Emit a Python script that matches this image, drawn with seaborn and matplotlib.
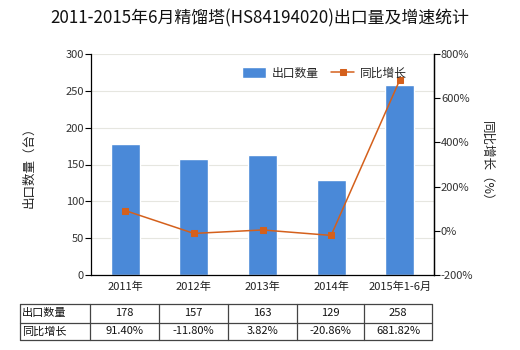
import numpy as np
import pandas as pd
import matplotlib
matplotlib.use("Agg")
import matplotlib.pyplot as plt
import seaborn as sns

sns.set_theme(style="white")
plt.rcParams['font.family'] = ['Noto Sans CJK SC', 'DejaVu Sans']
plt.rcParams['axes.unicode_minus'] = False

categories = ["2011年", "2012年", "2013年", "2014年", "2015年1-6月"]
export_qty = [178, 157, 163, 129, 258]
growth_pct = [91.40, -11.80, 3.82, -20.86, 681.82]
qty_labels = ["178", "157", "163", "129", "258"]
growth_labels = ["91.40%", "-11.80%", "3.82%", "-20.86%", "681.82%"]
left_ticks = [0, 50, 100, 150, 200, 250, 300]
right_ticks = [-200, 0, 200, 400, 600, 800]

bar_color = "#4a89d8"
line_color = "#d4601c"

W, H = 520, 350
fig = plt.figure(figsize=(W / 100, H / 100), dpi=100)
ax = fig.add_axes([91 / W, 1 - 275 / H, (434 - 91) / W, (275 - 54) / H])

df = pd.DataFrame({"cat": categories, "qty": export_qty, "growth": growth_pct})
sns.barplot(data=df, x="cat", y="qty", color=bar_color, width=0.42,
            saturation=1, ax=ax, label="出口数量", zorder=2)
if ax.get_legend() is not None:
    ax.get_legend().remove()
ax.set_xlim(-0.5, len(categories) - 0.5)
ax.set_ylim(0, 300)
ax.set_yticks(left_ticks)
ax.set_yticklabels([str(t) for t in left_ticks], fontsize=8, color="#333333")
ax.yaxis.grid(True, color="#e6e6e0", linewidth=0.8, zorder=0)
ax.set_axisbelow(True)
ax.set_xlabel("")
ax.set_xticks(range(len(categories)))
ax.set_xticklabels(categories, fontsize=8, color="#222222")
ax.tick_params(axis="x", length=0, pad=5)
ax.tick_params(axis="y", length=4, width=0.8, color="black", pad=1, direction="out", left=True)
ax.set_ylabel("出口数量（台）", fontsize=9, color="#222222", labelpad=22)
ax.spines["top"].set_visible(False)
for s in ["left", "bottom", "right"]:
    ax.spines[s].set_color("black")
    ax.spines[s].set_linewidth(0.9)

ax2 = ax.twinx()
x_pos = np.arange(len(categories))
sns.lineplot(x=x_pos, y=growth_pct, ax=ax2, color=line_color, marker="s",
             markersize=4, markeredgecolor=line_color, linewidth=1.1,
             label="同比增长", legend=False, zorder=3)
ax2.set_ylim(-200, 800)
ax2.set_yticks(right_ticks)
ax2.set_yticklabels([f"{t}%" for t in right_ticks], fontsize=8, color="#333333")
ax2.tick_params(axis="y", length=4, width=0.8, color="black", pad=1, direction="out", right=True)
ax2.set_ylabel("同比增长（%）", fontsize=9, color="#222222", rotation=-90, labelpad=14)
ax2.spines["top"].set_visible(False)
ax2.spines["right"].set_color("black")
ax2.spines["right"].set_linewidth(0.9)
ax2.spines["left"].set_visible(False)
ax2.spines["bottom"].set_visible(False)

h1, l1 = ax.get_legend_handles_labels()
h2, l2 = ax2.get_legend_handles_labels()
ax2.legend(h1 + h2, l1 + l2, loc="upper right", bbox_to_anchor=(0.936, 0.964),
           borderaxespad=0, ncol=2, frameon=False, fontsize=8.5,
           handlelength=2.0, handleheight=1.0,
           columnspacing=1.0, handletextpad=0.5)

fig.text(0.5, 1 - 18 / H, "2011-2015年6月精馏塔(HS84194020)出口量及增速统计",
         ha="center", va="center", fontsize=12.2, color="#111111")

# data table under the chart
col_edges = [20, 90, 159, 228, 297, 364, 432]
row_edges = [304, 322.5, 340]
row_names = ["出口数量", "同比增长"]
row_values = [qty_labels, growth_labels]
lc = "#444444"
for y in row_edges:
    fig.add_artist(plt.Line2D([col_edges[0] / W, col_edges[-1] / W],
                              [1 - y / H, 1 - y / H], color=lc, linewidth=0.9))
for x in col_edges:
    fig.add_artist(plt.Line2D([x / W, x / W],
                              [1 - row_edges[0] / H, 1 - row_edges[-1] / H],
                              color=lc, linewidth=0.9))
for r, (name, vals) in enumerate(zip(row_names, row_values)):
    yc = 1 - (row_edges[r] + row_edges[r + 1]) / 2 / H
    fig.text((col_edges[0] + 2) / W, yc, name, ha="left", va="center",
             fontsize=8, color="#111111")
    for c, v in enumerate(vals):
        xc = (col_edges[c + 1] + col_edges[c + 2]) / 2 / W
        fig.text(xc, yc, v, ha="center", va="center", fontsize=8, color="#111111")

fig.savefig("out.png", dpi=100, facecolor="white")
